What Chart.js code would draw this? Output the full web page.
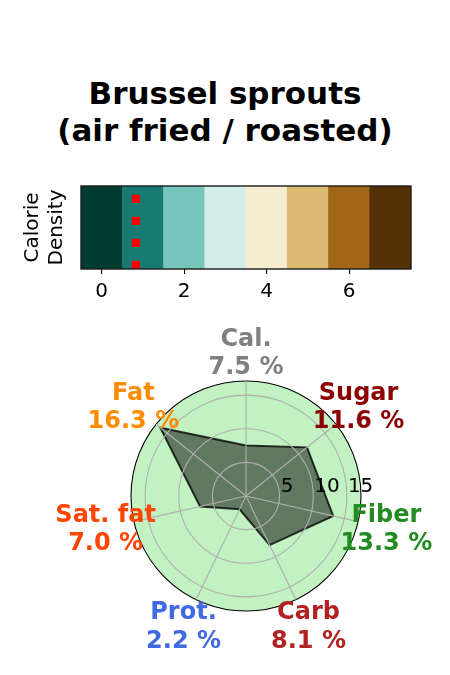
<!DOCTYPE html>
<html>
<head>
<meta charset="utf-8">
<script src="https://cdn.jsdelivr.net/npm/chart.js@4/dist/chart.umd.min.js"></script>
<style>
  html, body { margin: 0; padding: 0; background: #fff; width: 450px; height: 675px; overflow: hidden; }
  #title { position: absolute; left: 0; top: 75px; width: 450px; text-align: center;
           font-family: "DejaVu Sans"; font-weight: bold; font-size: 31px; line-height: 36.5px; color: #000; }
  #heat { position: absolute; left: 0; top: 160px; }
  #radar { position: absolute; left: 0; top: 310px; }
</style>
</head>
<body>
<div id="title">Brussel sprouts<br>(air fried / roasted)</div>
<canvas id="heat" width="450" height="150"></canvas>
<canvas id="radar" width="450" height="365"></canvas>
<script>
// ---- Data ----
const titleLines = ['Brussel sprouts', '(air fried / roasted)'];
const densityLevels = [0, 1, 2, 3, 4, 5, 6, 7];
const densityColors = ['#003c30', '#177b73', '#75c5ba', '#d4ede9', '#f6ecd1', '#dab972', '#a26619', '#543005'];
const densityTicks = [0, 2, 4, 6];
const densityMarker = 0.83;
const densityLabel = ['Calorie', 'Density'];

const nutrients = ['Cal.', 'Sugar', 'Fiber', 'Carb', 'Prot.', 'Sat. fat', 'Fat'];
const nutrientValues = [7.5, 11.6, 13.3, 8.1, 2.2, 7.0, 16.3];
const nutrientColors = ['#808080', '#8b0000', '#228b22', '#b22222', '#4169e1', '#ff4500', '#ff8c00'];
const radialTicks = [5, 10, 15];
const radialMax = 17.1;

Chart.defaults.font.family = '"DejaVu Sans"';
Chart.defaults.color = '#000';
Chart.defaults.animation = false;

// ---- Heatmap strip ----
const boxPlugin = {
  id: 'box',
  afterDraw(chart) {
    const a = chart.chartArea, ctx = chart.ctx;
    ctx.save();
    ctx.strokeStyle = '#1a1a1a';
    ctx.lineWidth = 1.4;
    ctx.strokeRect(a.left, a.top, a.right - a.left, a.bottom - a.top);
    ctx.restore();
  }
};

new Chart(document.getElementById('heat'), {
  data: {
    datasets: [
      {
        type: 'line',
        data: [{x: densityMarker, y: 0}, {x: densityMarker, y: 1}],
        borderColor: '#ff0000',
        borderWidth: 8.3,
        borderDash: [8.3, 13.7],
        borderCapStyle: 'butt',
        pointRadius: 0,
        order: 0
      },
      {
        type: 'bar',
        data: densityLevels.map(v => ({x: v, y: 1})),
        backgroundColor: densityColors,
        borderWidth: 0,
        barPercentage: 1,
        categoryPercentage: 1,
        order: 1
      }
    ]
  },
  options: {
    responsive: false,
    layout: { padding: { left: 15, right: 39, top: 26, bottom: 0 } },
    plugins: { legend: { display: false }, tooltip: { enabled: false } },
    scales: {
      x: {
        type: 'linear', min: -0.5, max: 7.5, offset: false,
        afterBuildTicks: s => { s.ticks = densityTicks.map(v => ({value: v})); },
        ticks: { font: { size: 20 }, color: '#000', padding: 6, maxRotation: 0, autoSkip: false },
        grid: { display: true, offset: false, drawOnChartArea: false, drawTicks: true, tickLength: 5, color: '#000', lineWidth: 1.1 },
        border: { display: false }
      },
      y: {
        type: 'linear', min: 0, max: 1,
        ticks: { display: false },
        grid: { display: false, drawTicks: false },
        border: { display: false },
        title: { display: true, text: densityLabel, font: { size: 20 }, color: '#000', padding: { top: 6, bottom: 12 } }
      }
    }
  },
  plugins: [boxPlugin]
});

// ---- Radar ----
const radarDecor = {
  id: 'radarDecor',
  beforeDatasetsDraw(chart) {
    const s = chart.scales.r, ctx = chart.ctx;
    ctx.save();
    ctx.beginPath();
    ctx.arc(s.xCenter, s.yCenter, s.getDistanceFromCenterForValue(radialMax), 0, Math.PI * 2);
    ctx.fillStyle = 'rgb(194,241,194)';
    ctx.fill();
    ctx.restore();
  },
  afterDraw(chart) {
    const s = chart.scales.r, ctx = chart.ctx;
    ctx.save();
    ctx.font = '20px "DejaVu Sans"';
    ctx.fillStyle = '#000';
    ctx.textAlign = 'left';
    ctx.textBaseline = 'alphabetic';
    radialTicks.forEach(v => {
      const r = s.getDistanceFromCenterForValue(v);
      ctx.fillText(String(v), s.xCenter + r + 1, s.yCenter - 4);
    });
    ctx.font = 'bold 24px "DejaVu Sans"';
    ctx.textAlign = 'center';
    const outer = s.getDistanceFromCenterForValue(radialMax);
    nutrients.forEach((name, i) => {
      const p = s.getPointPosition(i, outer + 29);
      ctx.fillStyle = nutrientColors[i];
      ctx.fillText(name, p.x, p.y - 6.4);
      ctx.fillText(nutrientValues[i].toFixed(1) + ' %', p.x, p.y + 21.9);
    });
    ctx.restore();
  }
};

new Chart(document.getElementById('radar'), {
  type: 'radar',
  data: {
    labels: nutrients,
    datasets: [{
      data: nutrientValues,
      backgroundColor: 'rgba(0,0,0,0.5)',
      borderColor: 'rgba(0,0,0,0.78)',
      borderWidth: 2,
      pointRadius: 0,
      fill: true,
      tension: 0
    }]
  },
  options: {
    responsive: false,
    layout: { padding: { left: 131, right: 89, top: 71, bottom: 64 } },
    plugins: { legend: { display: false }, tooltip: { enabled: false } },
    scales: {
      r: {
        min: 0, max: radialMax,
        afterBuildTicks: s => { s.ticks = [0, ...radialTicks, radialMax].map(v => ({value: v})); },
        ticks: { display: false },
        pointLabels: { display: false },
        grid: {
          circular: true, z: 1,
          color: c => (c.tick && c.tick.value === radialMax) ? '#000' : '#b0b0b0',
          lineWidth: 1.1
        },
        angleLines: { display: true, color: '#b0b0b0', lineWidth: 1.1 }
      }
    }
  },
  plugins: [radarDecor]
});
</script>
</body>
</html>
